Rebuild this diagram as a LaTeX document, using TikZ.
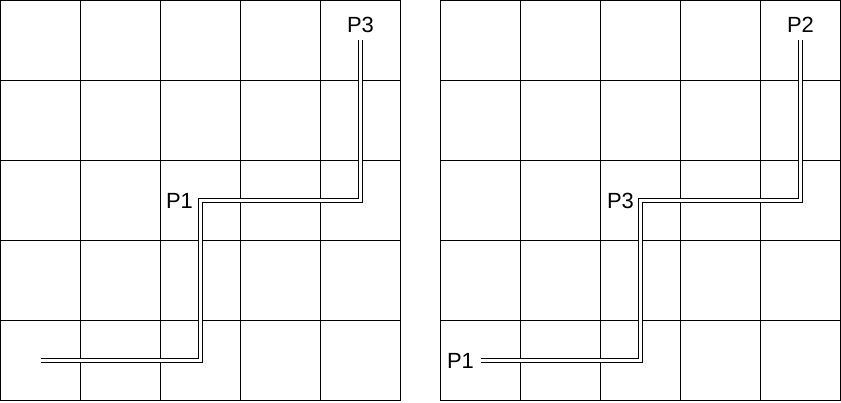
\documentclass[tikz,border=0pt]{standalone}
\usepackage{fontspec}
\setmainfont{Liberation Sans}

\begin{document}
\begin{tikzpicture}[x=0.02cm,y=-0.02cm,
  cell/.style={line width=0.6pt},
  wire/.style={draw=black,line width=0.5pt,double=white,double distance=1.4pt},
  lbl/.style={font=\fontsize{12.5}{14}\selectfont,inner sep=1pt}]
  \useasboundingbox (-0.5,-0.5) rectangle (840.5,401.5);
  % two 5x5 grids
  \foreach \ox in {0,440} {
    \foreach \i in {0,...,5} {
      \draw[cell] (\ox+\i*80,0) -- (\ox+\i*80,400);
      \draw[cell] (\ox,\i*80) -- (\ox+400,\i*80);
    }
  }
  % left grid
  \coordinate (la) at (40,360);
  \coordinate (lb) at (200,360);
  \coordinate (lc) at (200,200);
  \coordinate (ld) at (360,200);
  \coordinate (le) at (360,40);
  \node[lbl] (lp1) at (179,200) {P1};
  \node[lbl] (lp3) at (360,24) {P3};
  \draw[wire] (la) -- (lb) -- (lc) -- (ld) -- (le);
  % right grid
  \coordinate (ra) at (480,360);
  \coordinate (rb) at (640,360);
  \coordinate (rc) at (640,200);
  \coordinate (rd) at (800,200);
  \coordinate (re) at (800,40);
  \node[lbl] (rp1) at (460,360) {P1};
  \node[lbl] (rp3) at (620,200) {P3};
  \node[lbl] (rp2) at (800,24) {P2};
  \draw[wire] (ra) -- (rb) -- (rc) -- (rd) -- (re);
\end{tikzpicture}
\end{document}
